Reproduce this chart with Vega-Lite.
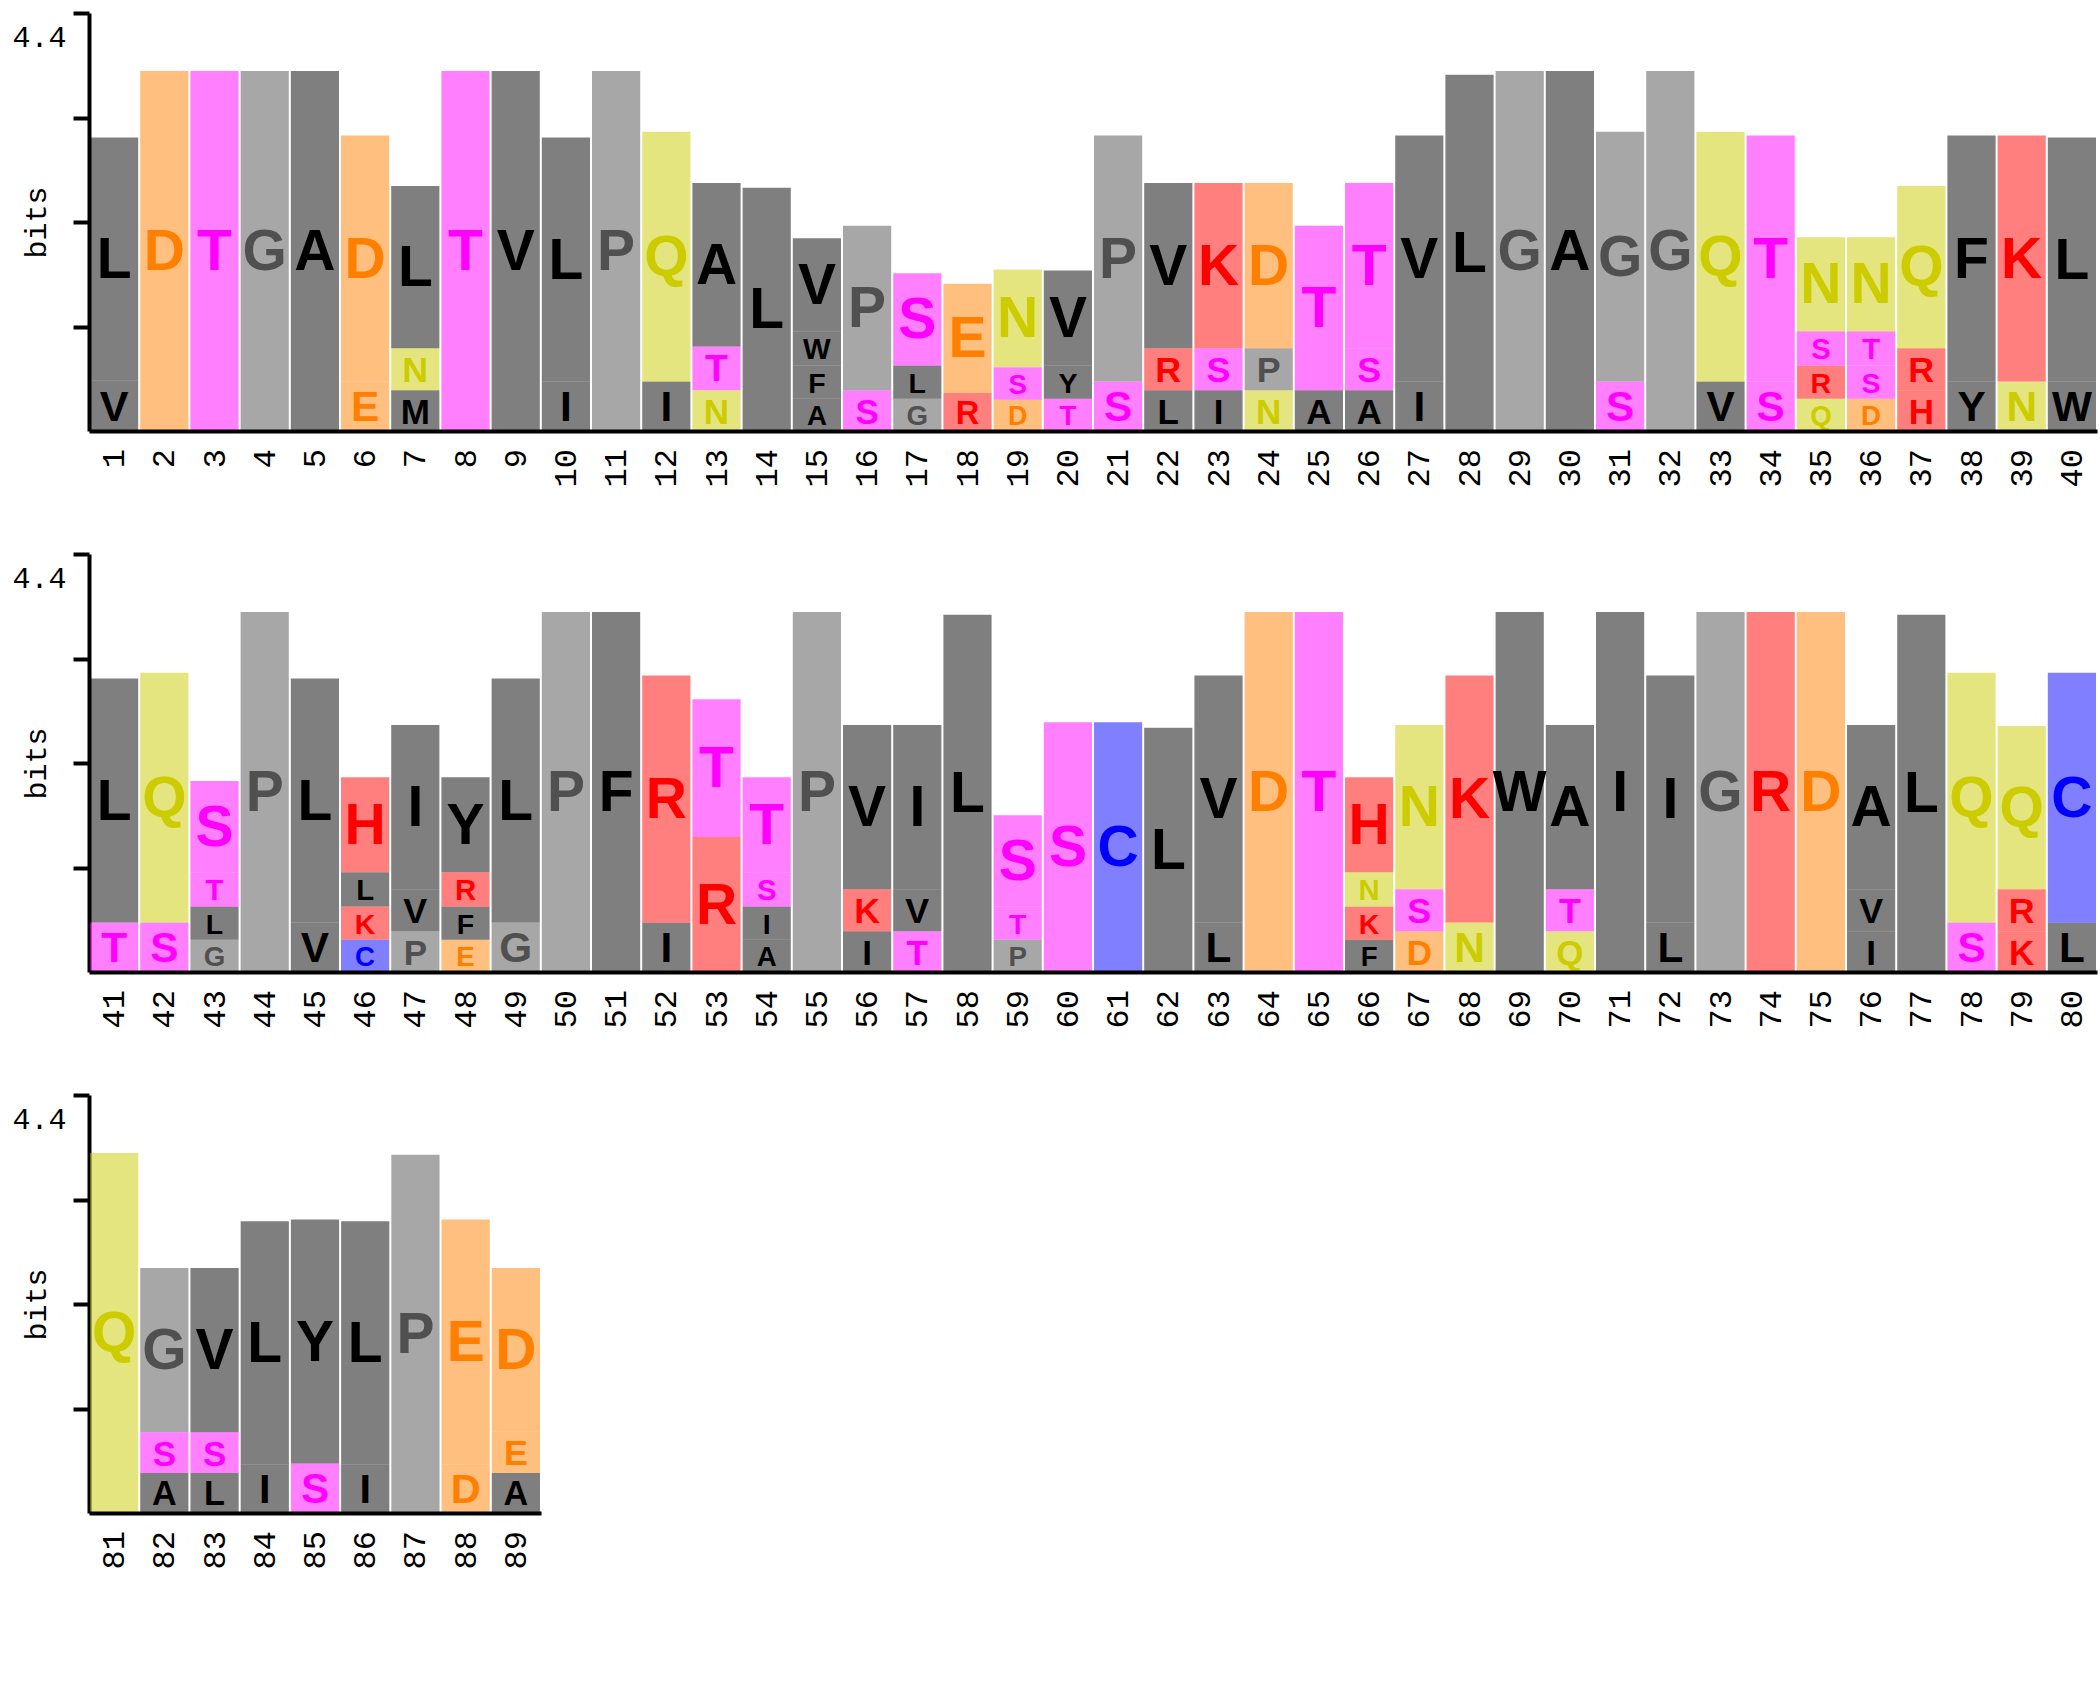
{
"$schema": "https://vega.github.io/schema/vega-lite/v6.json",
"background": "white",
"padding": {"left": 11, "top": 11, "right": 4, "bottom": 5},
"spacing": 123,
"bounds": "flush",
"config": {
  "view": {"stroke": null},
  "font": "Liberation Mono",
  "axisX": {"labels": false, "ticks": false, "domainWidth": 4, "domainColor": "black"},
  "axisY": {"titleFont": "Liberation Mono", "titleFontSize": 30, "titleFontWeight": "normal", "titleColor": "black", "titleAngle": 270, "titleX": -53, "titleY": 209, "titleAlign": "center", "titleBaseline": "middle",
            "tickSize": 16, "tickWidth": 4, "tickColor": "black", "domainWidth": 4, "domainColor": "black", "grid": false,
            "labelFont": "Liberation Mono", "labelFontSize": 30, "labelColor": "black", "labelOffset": 24, "labelPadding": 7}
},
"datasets": {"logo": [
{"pos":1,"aa":"V","bits":0.53},{"pos":1,"aa":"L","bits":2.56},
{"pos":2,"aa":"D","bits":3.79},
{"pos":3,"aa":"T","bits":3.79},
{"pos":4,"aa":"G","bits":3.79},
{"pos":5,"aa":"A","bits":3.79},
{"pos":6,"aa":"E","bits":0.52},{"pos":6,"aa":"D","bits":2.59},
{"pos":7,"aa":"M","bits":0.43},{"pos":7,"aa":"N","bits":0.44},{"pos":7,"aa":"L","bits":1.71},
{"pos":8,"aa":"T","bits":3.79},
{"pos":9,"aa":"V","bits":3.79},
{"pos":10,"aa":"I","bits":0.52},{"pos":10,"aa":"L","bits":2.57},
{"pos":11,"aa":"P","bits":3.79},
{"pos":12,"aa":"I","bits":0.52},{"pos":12,"aa":"Q","bits":2.63},
{"pos":13,"aa":"N","bits":0.43},{"pos":13,"aa":"T","bits":0.46},{"pos":13,"aa":"A","bits":1.72},
{"pos":14,"aa":"L","bits":2.56},
{"pos":15,"aa":"A","bits":0.34},{"pos":15,"aa":"F","bits":0.35},{"pos":15,"aa":"W","bits":0.36},{"pos":15,"aa":"V","bits":0.98},
{"pos":16,"aa":"S","bits":0.43},{"pos":16,"aa":"P","bits":1.73},
{"pos":17,"aa":"G","bits":0.34},{"pos":17,"aa":"L","bits":0.35},{"pos":17,"aa":"S","bits":0.97},
{"pos":18,"aa":"R","bits":0.40},{"pos":18,"aa":"E","bits":1.15},
{"pos":19,"aa":"D","bits":0.33},{"pos":19,"aa":"S","bits":0.34},{"pos":19,"aa":"N","bits":1.03},
{"pos":20,"aa":"T","bits":0.34},{"pos":20,"aa":"Y","bits":0.35},{"pos":20,"aa":"V","bits":1.0},
{"pos":21,"aa":"S","bits":0.52},{"pos":21,"aa":"P","bits":2.59},
{"pos":22,"aa":"L","bits":0.43},{"pos":22,"aa":"R","bits":0.44},{"pos":22,"aa":"V","bits":1.74},
{"pos":23,"aa":"I","bits":0.43},{"pos":23,"aa":"S","bits":0.44},{"pos":23,"aa":"K","bits":1.74},
{"pos":24,"aa":"N","bits":0.43},{"pos":24,"aa":"P","bits":0.44},{"pos":24,"aa":"D","bits":1.74},
{"pos":25,"aa":"A","bits":0.43},{"pos":25,"aa":"T","bits":1.73},
{"pos":26,"aa":"A","bits":0.43},{"pos":26,"aa":"S","bits":0.44},{"pos":26,"aa":"T","bits":1.74},
{"pos":27,"aa":"I","bits":0.52},{"pos":27,"aa":"V","bits":2.59},
{"pos":28,"aa":"L","bits":3.75},
{"pos":29,"aa":"G","bits":3.79},
{"pos":30,"aa":"A","bits":3.79},
{"pos":31,"aa":"S","bits":0.52},{"pos":31,"aa":"G","bits":2.63},
{"pos":32,"aa":"G","bits":3.79},
{"pos":33,"aa":"V","bits":0.52},{"pos":33,"aa":"Q","bits":2.63},
{"pos":34,"aa":"S","bits":0.52},{"pos":34,"aa":"T","bits":2.59},
{"pos":35,"aa":"Q","bits":0.34},{"pos":35,"aa":"R","bits":0.35},{"pos":35,"aa":"S","bits":0.36},{"pos":35,"aa":"N","bits":0.99},
{"pos":36,"aa":"D","bits":0.34},{"pos":36,"aa":"S","bits":0.35},{"pos":36,"aa":"T","bits":0.36},{"pos":36,"aa":"N","bits":0.99},
{"pos":37,"aa":"H","bits":0.43},{"pos":37,"aa":"R","bits":0.44},{"pos":37,"aa":"Q","bits":1.71},
{"pos":38,"aa":"Y","bits":0.52},{"pos":38,"aa":"F","bits":2.59},
{"pos":39,"aa":"N","bits":0.52},{"pos":39,"aa":"K","bits":2.59},
{"pos":40,"aa":"W","bits":0.52},{"pos":40,"aa":"L","bits":2.57},
{"pos":41,"aa":"T","bits":0.52},{"pos":41,"aa":"L","bits":2.57},
{"pos":42,"aa":"S","bits":0.52},{"pos":42,"aa":"Q","bits":2.63},
{"pos":43,"aa":"G","bits":0.34},{"pos":43,"aa":"L","bits":0.35},{"pos":43,"aa":"T","bits":0.36},{"pos":43,"aa":"S","bits":0.96},
{"pos":44,"aa":"P","bits":3.79},
{"pos":45,"aa":"V","bits":0.52},{"pos":45,"aa":"L","bits":2.57},
{"pos":46,"aa":"C","bits":0.34},{"pos":46,"aa":"K","bits":0.35},{"pos":46,"aa":"L","bits":0.36},{"pos":46,"aa":"H","bits":1.0},
{"pos":47,"aa":"P","bits":0.43},{"pos":47,"aa":"V","bits":0.44},{"pos":47,"aa":"I","bits":1.73},
{"pos":48,"aa":"E","bits":0.34},{"pos":48,"aa":"F","bits":0.35},{"pos":48,"aa":"R","bits":0.36},{"pos":48,"aa":"Y","bits":1.0},
{"pos":49,"aa":"G","bits":0.52},{"pos":49,"aa":"L","bits":2.57},
{"pos":50,"aa":"P","bits":3.79},
{"pos":51,"aa":"F","bits":3.79},
{"pos":52,"aa":"I","bits":0.52},{"pos":52,"aa":"R","bits":2.6},
{"pos":53,"aa":"R","bits":1.42},{"pos":53,"aa":"T","bits":1.45},
{"pos":54,"aa":"A","bits":0.34},{"pos":54,"aa":"I","bits":0.35},{"pos":54,"aa":"S","bits":0.36},{"pos":54,"aa":"T","bits":1.0},
{"pos":55,"aa":"P","bits":3.79},
{"pos":56,"aa":"I","bits":0.43},{"pos":56,"aa":"K","bits":0.44},{"pos":56,"aa":"V","bits":1.73},
{"pos":57,"aa":"T","bits":0.43},{"pos":57,"aa":"V","bits":0.44},{"pos":57,"aa":"I","bits":1.73},
{"pos":58,"aa":"L","bits":3.76},
{"pos":59,"aa":"P","bits":0.34},{"pos":59,"aa":"T","bits":0.35},{"pos":59,"aa":"S","bits":0.96},
{"pos":60,"aa":"S","bits":2.63},
{"pos":61,"aa":"C","bits":2.63},
{"pos":62,"aa":"L","bits":2.57},
{"pos":63,"aa":"L","bits":0.52},{"pos":63,"aa":"V","bits":2.6},
{"pos":64,"aa":"D","bits":3.79},
{"pos":65,"aa":"T","bits":3.79},
{"pos":66,"aa":"F","bits":0.34},{"pos":66,"aa":"K","bits":0.35},{"pos":66,"aa":"N","bits":0.36},{"pos":66,"aa":"H","bits":1.0},
{"pos":67,"aa":"D","bits":0.43},{"pos":67,"aa":"S","bits":0.44},{"pos":67,"aa":"N","bits":1.73},
{"pos":68,"aa":"N","bits":0.52},{"pos":68,"aa":"K","bits":2.6},
{"pos":69,"aa":"W","bits":3.79},
{"pos":70,"aa":"Q","bits":0.43},{"pos":70,"aa":"T","bits":0.44},{"pos":70,"aa":"A","bits":1.73},
{"pos":71,"aa":"I","bits":3.79},
{"pos":72,"aa":"L","bits":0.52},{"pos":72,"aa":"I","bits":2.6},
{"pos":73,"aa":"G","bits":3.79},
{"pos":74,"aa":"R","bits":3.79},
{"pos":75,"aa":"D","bits":3.79},
{"pos":76,"aa":"I","bits":0.43},{"pos":76,"aa":"V","bits":0.44},{"pos":76,"aa":"A","bits":1.73},
{"pos":77,"aa":"L","bits":3.76},
{"pos":78,"aa":"S","bits":0.52},{"pos":78,"aa":"Q","bits":2.63},
{"pos":79,"aa":"K","bits":0.43},{"pos":79,"aa":"R","bits":0.44},{"pos":79,"aa":"Q","bits":1.72},
{"pos":80,"aa":"L","bits":0.52},{"pos":80,"aa":"C","bits":2.63},
{"pos":81,"aa":"Q","bits":3.79},
{"pos":82,"aa":"A","bits":0.42},{"pos":82,"aa":"S","bits":0.43},{"pos":82,"aa":"G","bits":1.73},
{"pos":83,"aa":"L","bits":0.42},{"pos":83,"aa":"S","bits":0.43},{"pos":83,"aa":"V","bits":1.73},
{"pos":84,"aa":"I","bits":0.51},{"pos":84,"aa":"L","bits":2.56},
{"pos":85,"aa":"S","bits":0.52},{"pos":85,"aa":"Y","bits":2.57},
{"pos":86,"aa":"I","bits":0.51},{"pos":86,"aa":"L","bits":2.56},
{"pos":87,"aa":"P","bits":3.77},
{"pos":88,"aa":"D","bits":0.51},{"pos":88,"aa":"E","bits":2.58},
{"pos":89,"aa":"A","bits":0.42},{"pos":89,"aa":"E","bits":0.44},{"pos":89,"aa":"D","bits":1.72}
]},
"vconcat": [
{
 "width": 2008, "height": 418,
 "data": {"name": "logo"},
 "transform": [
  {"filter": "datum.pos <= 40"},
  {"stack": "bits", "groupby": ["pos"], "sort": [{"field": "bits", "order": "ascending"}], "as": ["b0", "b1"]}
 ],
 "layer": [
  {"mark": {"type": "rect", "fillOpacity": 0.5},
   "encoding": {
    "x": {"field": "pos", "type": "ordinal", "sort": "ascending", "scale": {"paddingInner": 0.04, "paddingOuter": 0.02}, "axis": {"title": null}},
    "y": {"field": "b0", "type": "quantitative", "scale": {"domain": [0, 4.4], "nice": false},
          "axis": {"title": "bits", "values": [1.1, 2.2, 3.3, 4.4], "labelExpr": "datum.value > 4.3 ? '4.4' : ''"}},
    "y2": {"field": "b1"},
    "color": {"field": "aa", "type": "nominal", "legend": null,
        "scale": {"domain": ["A","C","D","E","F","G","H","I","K","L","M","N","P","Q","R","S","T","V","W","Y"],
                  "range": ["#000000","#0000ff","#ff8000","#ff8000","#000000","#505050","#ff0000","#000000","#ff0000","#000000","#000000","#cccc00","#505050","#cccc00","#ff0000","#ff00ff","#ff00ff","#000000","#000000","#000000"]}}
   }},
  {"transform": [
     {"fold": ["b0", "b1"], "as": ["edge", "v"]},
     {"aggregate": [{"op": "mean", "field": "v", "as": "mid"}], "groupby": ["pos", "aa", "bits"]}
   ],
   "mark": {"type": "text", "baseline": "middle", "dy": 2, "font": "Liberation Sans", "fontWeight": "bold"},
   "encoding": {
    "x": {"field": "pos", "type": "ordinal", "sort": "ascending", "axis": {"title": null}},
    "y": {"field": "mid", "type": "quantitative"},
    "text": {"field": "aa"},
    "color": {"field": "aa", "type": "nominal", "legend": null},
    "size": {"field": "bits", "type": "quantitative", "legend": null, "scale": {"domain": [0, 0.7], "range": [0, 57], "clamp": true}}
   }},
  {"transform": [{"aggregate": [{"op": "count", "as": "n"}], "groupby": ["pos"]}],
   "mark": {"type": "text", "angle": 270, "align": "right", "baseline": "middle", "dx": -18, "font": "Liberation Mono", "fontSize": 32, "color": "black"},
   "encoding": {
    "x": {"field": "pos", "type": "ordinal", "sort": "ascending", "axis": {"title": null}},
    "y": {"datum": 0, "type": "quantitative"},
    "text": {"field": "pos", "type": "ordinal"}
   }}
 ]
},
{
 "width": 2008, "height": 418,
 "data": {"name": "logo"},
 "transform": [
  {"filter": "datum.pos > 40 && datum.pos <= 80"},
  {"stack": "bits", "groupby": ["pos"], "sort": [{"field": "bits", "order": "ascending"}], "as": ["b0", "b1"]}
 ],
 "layer": [
  {"mark": {"type": "rect", "fillOpacity": 0.5},
   "encoding": {
    "x": {"field": "pos", "type": "ordinal", "sort": "ascending", "scale": {"paddingInner": 0.04, "paddingOuter": 0.02}, "axis": {"title": null}},
    "y": {"field": "b0", "type": "quantitative", "scale": {"domain": [0, 4.4], "nice": false},
          "axis": {"title": "bits", "values": [1.1, 2.2, 3.3, 4.4], "labelExpr": "datum.value > 4.3 ? '4.4' : ''"}},
    "y2": {"field": "b1"},
    "color": {"field": "aa", "type": "nominal", "legend": null,
        "scale": {"domain": ["A","C","D","E","F","G","H","I","K","L","M","N","P","Q","R","S","T","V","W","Y"],
                  "range": ["#000000","#0000ff","#ff8000","#ff8000","#000000","#505050","#ff0000","#000000","#ff0000","#000000","#000000","#cccc00","#505050","#cccc00","#ff0000","#ff00ff","#ff00ff","#000000","#000000","#000000"]}}
   }},
  {"transform": [
     {"fold": ["b0", "b1"], "as": ["edge", "v"]},
     {"aggregate": [{"op": "mean", "field": "v", "as": "mid"}], "groupby": ["pos", "aa", "bits"]}
   ],
   "mark": {"type": "text", "baseline": "middle", "dy": 2, "font": "Liberation Sans", "fontWeight": "bold"},
   "encoding": {
    "x": {"field": "pos", "type": "ordinal", "sort": "ascending", "axis": {"title": null}},
    "y": {"field": "mid", "type": "quantitative"},
    "text": {"field": "aa"},
    "color": {"field": "aa", "type": "nominal", "legend": null},
    "size": {"field": "bits", "type": "quantitative", "legend": null, "scale": {"domain": [0, 0.7], "range": [0, 57], "clamp": true}}
   }},
  {"transform": [{"aggregate": [{"op": "count", "as": "n"}], "groupby": ["pos"]}],
   "mark": {"type": "text", "angle": 270, "align": "right", "baseline": "middle", "dx": -18, "font": "Liberation Mono", "fontSize": 32, "color": "black"},
   "encoding": {
    "x": {"field": "pos", "type": "ordinal", "sort": "ascending", "axis": {"title": null}},
    "y": {"datum": 0, "type": "quantitative"},
    "text": {"field": "pos", "type": "ordinal"}
   }}
 ]
},
{
 "width": 452, "height": 418,
 "data": {"name": "logo"},
 "transform": [
  {"filter": "datum.pos > 80"},
  {"stack": "bits", "groupby": ["pos"], "sort": [{"field": "bits", "order": "ascending"}], "as": ["b0", "b1"]}
 ],
 "layer": [
  {"mark": {"type": "rect", "fillOpacity": 0.5},
   "encoding": {
    "x": {"field": "pos", "type": "ordinal", "sort": "ascending", "scale": {"paddingInner": 0.04, "paddingOuter": 0.02}, "axis": {"title": null}},
    "y": {"field": "b0", "type": "quantitative", "scale": {"domain": [0, 4.4], "nice": false},
          "axis": {"title": "bits", "values": [1.1, 2.2, 3.3, 4.4], "labelExpr": "datum.value > 4.3 ? '4.4' : ''"}},
    "y2": {"field": "b1"},
    "color": {"field": "aa", "type": "nominal", "legend": null,
        "scale": {"domain": ["A","C","D","E","F","G","H","I","K","L","M","N","P","Q","R","S","T","V","W","Y"],
                  "range": ["#000000","#0000ff","#ff8000","#ff8000","#000000","#505050","#ff0000","#000000","#ff0000","#000000","#000000","#cccc00","#505050","#cccc00","#ff0000","#ff00ff","#ff00ff","#000000","#000000","#000000"]}}
   }},
  {"transform": [
     {"fold": ["b0", "b1"], "as": ["edge", "v"]},
     {"aggregate": [{"op": "mean", "field": "v", "as": "mid"}], "groupby": ["pos", "aa", "bits"]}
   ],
   "mark": {"type": "text", "baseline": "middle", "dy": 2, "font": "Liberation Sans", "fontWeight": "bold"},
   "encoding": {
    "x": {"field": "pos", "type": "ordinal", "sort": "ascending", "axis": {"title": null}},
    "y": {"field": "mid", "type": "quantitative"},
    "text": {"field": "aa"},
    "color": {"field": "aa", "type": "nominal", "legend": null},
    "size": {"field": "bits", "type": "quantitative", "legend": null, "scale": {"domain": [0, 0.7], "range": [0, 57], "clamp": true}}
   }},
  {"transform": [{"aggregate": [{"op": "count", "as": "n"}], "groupby": ["pos"]}],
   "mark": {"type": "text", "angle": 270, "align": "right", "baseline": "middle", "dx": -18, "font": "Liberation Mono", "fontSize": 32, "color": "black"},
   "encoding": {
    "x": {"field": "pos", "type": "ordinal", "sort": "ascending", "axis": {"title": null}},
    "y": {"datum": 0, "type": "quantitative"},
    "text": {"field": "pos", "type": "ordinal"}
   }}
 ]
}
]
}
